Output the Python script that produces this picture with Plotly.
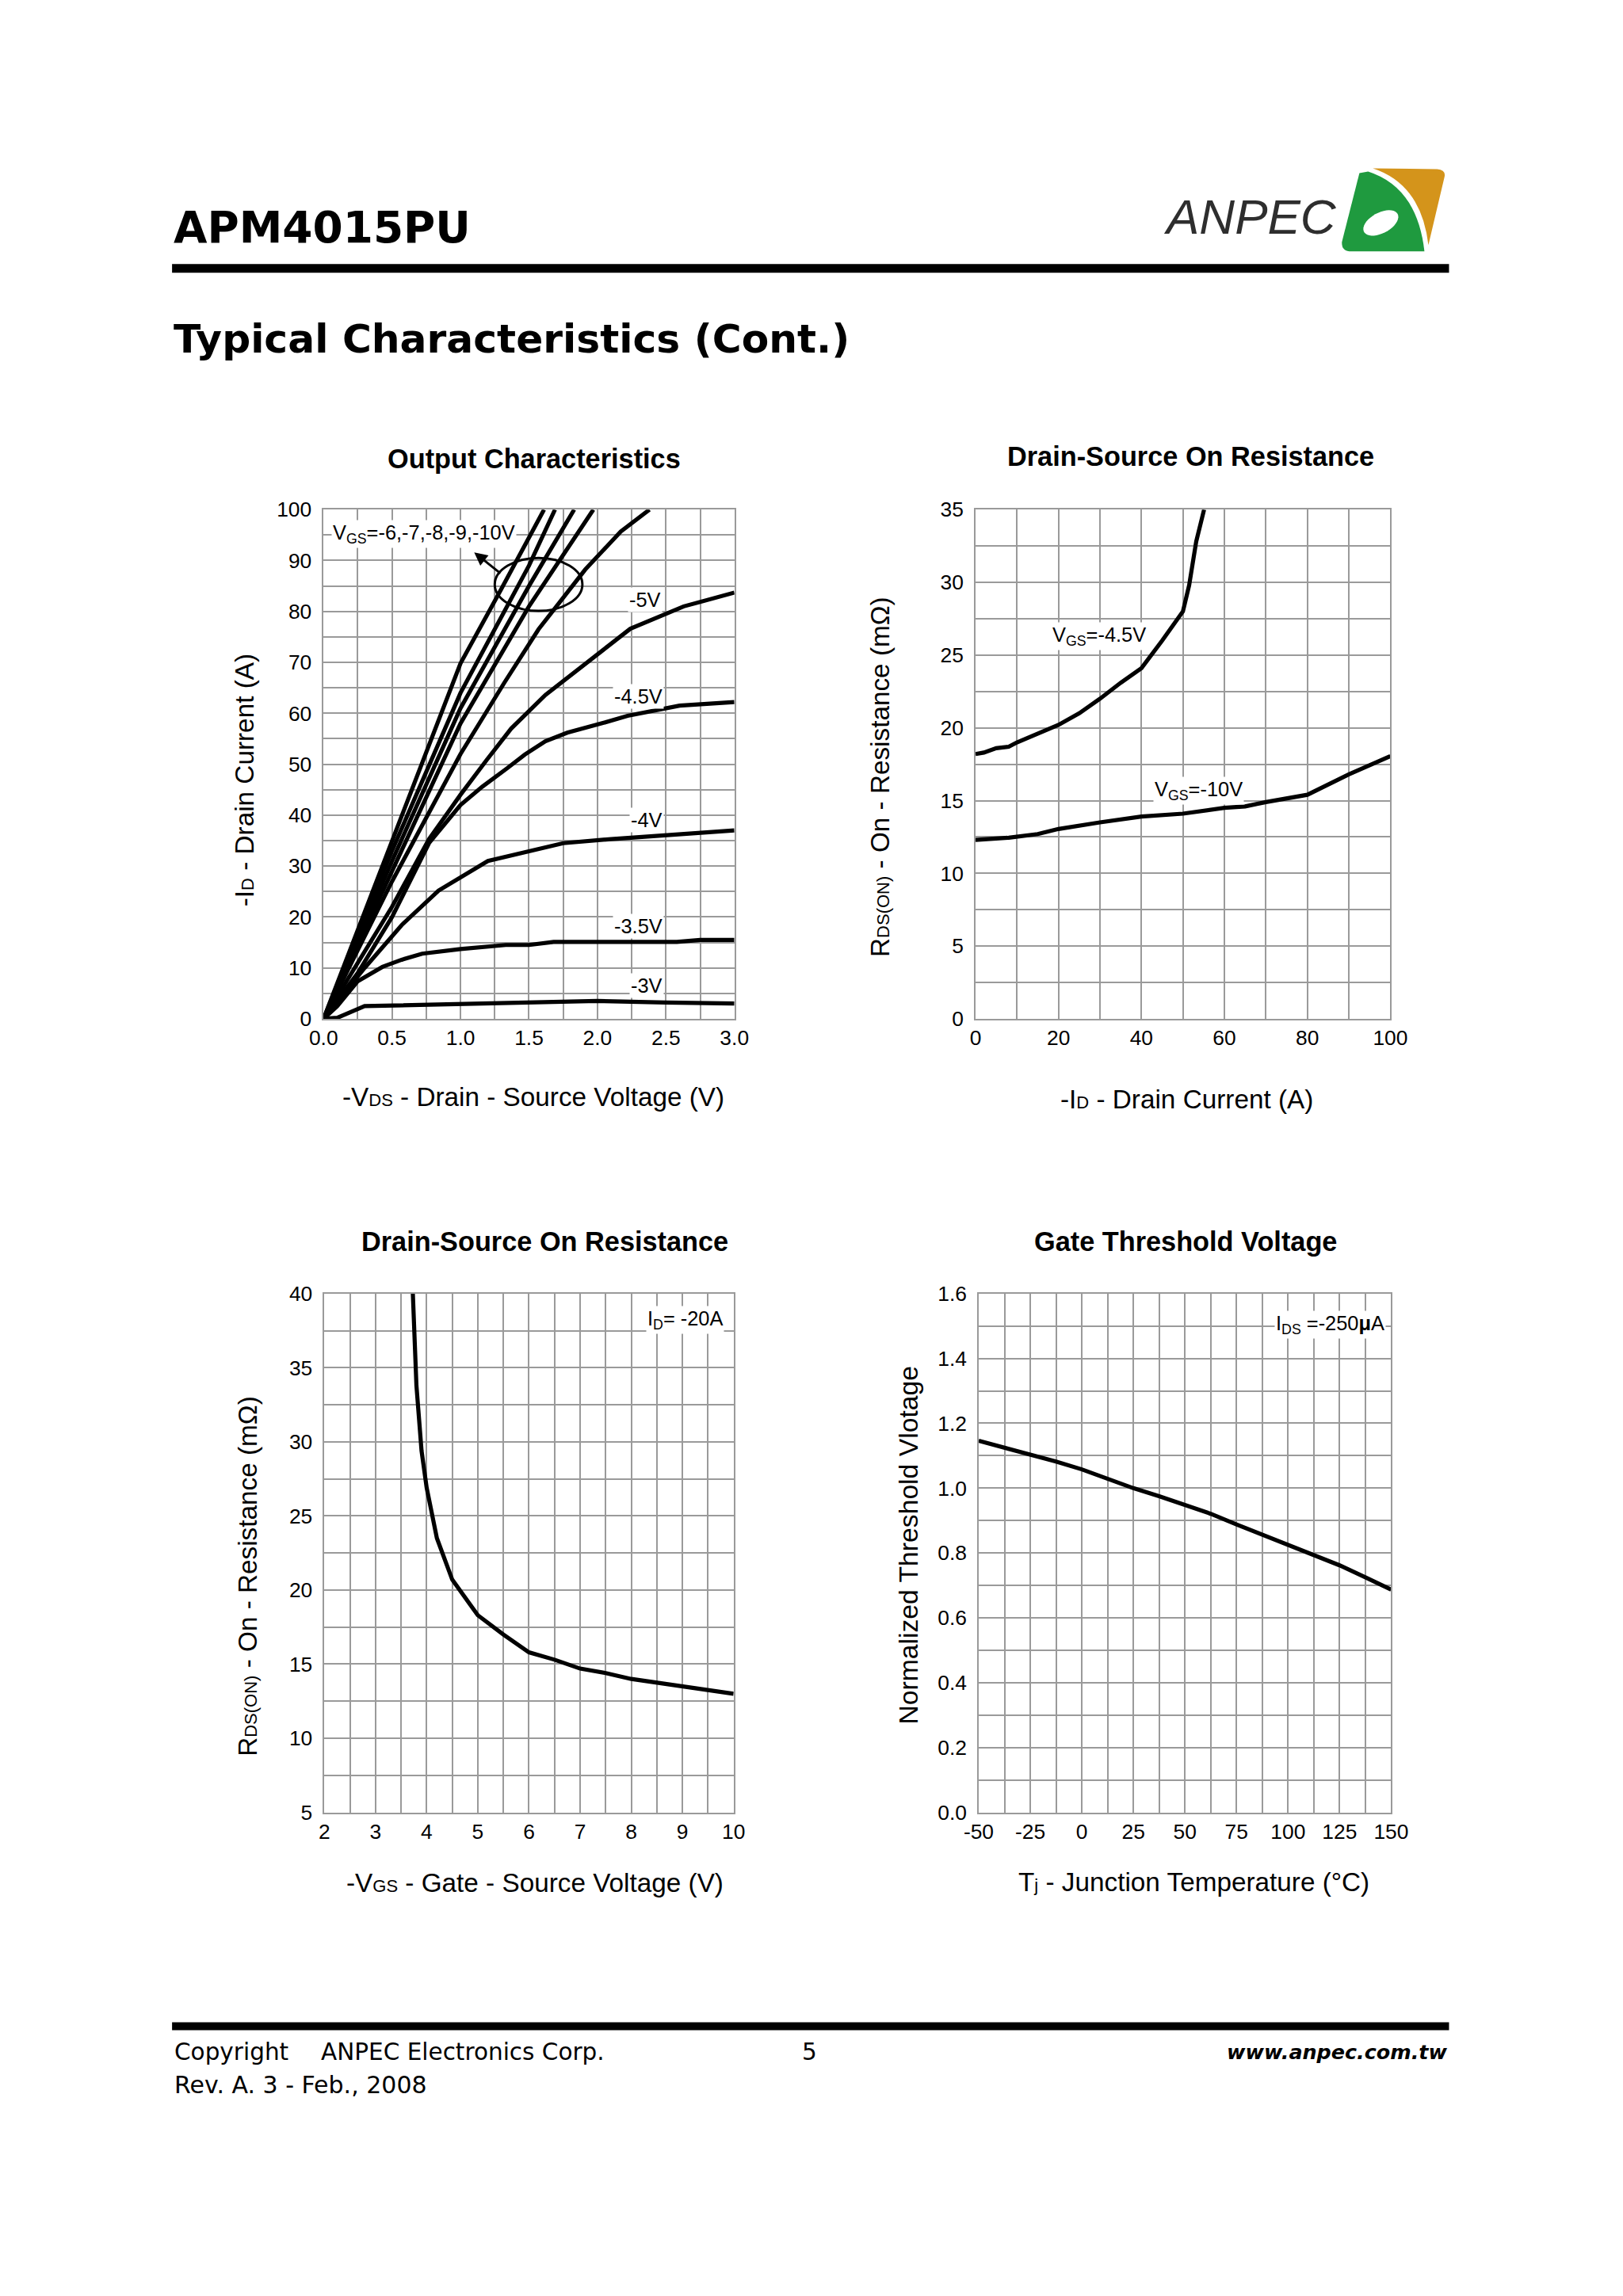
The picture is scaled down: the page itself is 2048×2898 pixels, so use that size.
import plotly.graph_objects as go
import numpy as np

# ---------------- data ----------------
# Output characteristics: -VDS (V) vs -ID (A)
vds_3v0 = [0.0, 0.1, 0.3, 1.0, 1.5, 2.0, 2.5, 3.0]
id_3v0 = [0.0, 0.2, 2.5, 2.9, 3.2, 3.5, 3.2, 3.0]
vds_3v5 = [0.0, 0.1, 0.25, 0.43, 0.57, 0.72, 1.0, 1.2, 1.33, 1.5, 1.68, 2.58, 2.75, 3.0]
id_3v5 = [0.0, 2.5, 7.4, 10.2, 11.6, 12.8, 13.7, 14.1, 14.5, 14.5, 15.1, 15.1, 15.5, 15.5]
vds_4v0 = [0.0, 0.3, 0.57, 0.84, 1.2, 1.5, 1.75, 2.1, 2.5, 3.0]
id_4v0 = [0.0, 10.0, 18.4, 25.2, 31.0, 33.0, 34.5, 35.3, 36.0, 37.0]
vds_4v5 = [0.0, 0.25, 0.5, 0.77, 1.0, 1.16, 1.34, 1.47, 1.62, 1.78, 2.04, 2.22, 2.6, 3.0]
id_4v5 = [0.0, 9.0, 20.0, 34.5, 42.0, 45.6, 49.2, 51.9, 54.5, 56.2, 58.1, 59.5, 61.5, 62.2]
vds_5v0 = [0.0, 0.5, 0.77, 1.0, 1.19, 1.37, 1.62, 1.91, 2.24, 2.63, 3.0]
id_5v0 = [0.0, 22.0, 35.3, 44.0, 50.8, 57.0, 63.6, 69.8, 76.6, 81.0, 83.7]
vds_6v0 = [0.0, 0.5, 1.0, 1.32, 1.57, 1.91, 2.17, 2.38]
id_6v0 = [0.0, 27.0, 52.0, 66.0, 76.5, 88.2, 95.7, 100.0]
vds_7v0 = [0.0, 0.5, 1.0, 1.5, 1.97]
id_7v0 = [0.0, 29.0, 58.0, 81.0, 100.0]
vds_8v0 = [0.0, 0.5, 1.0, 1.5, 1.83]
id_8v0 = [0.0, 31.0, 61.0, 85.0, 100.0]
vds_9v0 = [0.0, 0.5, 1.0, 1.5, 1.69]
id_9v0 = [0.0, 33.0, 64.0, 89.0, 100.0]
vds_10v0 = [0.0, 0.5, 1.0, 1.3, 1.61]
id_10v0 = [0.0, 35.0, 69.8, 84.5, 100.0]

# On resistance vs drain current
id_r45 = [0, 2, 5, 8, 10, 15, 20, 25, 30, 35, 40, 45, 50, 51.5, 53.2, 55.1]
rds_r45 = [18.2, 18.3, 18.6, 18.7, 19.0, 19.6, 20.2, 21.0, 22.0, 23.1, 24.1, 26.0, 28.0, 29.8, 32.8, 35.0]
id_r10 = [0, 8, 15, 20, 30, 40, 50, 60, 65, 70, 80, 85, 90, 100]
rds_r10 = [12.3, 12.45, 12.7, 13.05, 13.5, 13.9, 14.1, 14.5, 14.6, 14.9, 15.4, 16.1, 16.8, 18.05]

# On resistance vs gate-source voltage
vgs_r = [3.73, 3.76, 3.8, 3.9, 4.0, 4.2, 4.5, 5.0, 5.5, 6.0, 6.5, 7.0, 7.5, 8.0, 9.0, 10.0]
rds_vgs = [40.0, 36.5, 33.8, 29.4, 26.9, 23.5, 20.7, 18.3, 17.0, 15.8, 15.3, 14.7, 14.4, 14.0, 13.5, 13.0]

# Normalized threshold voltage vs junction temperature
tj = [-50, -25, -12.5, 0, 12.5, 25, 37.5, 50, 62.5, 75, 87.5, 100, 112.5, 125, 137.5, 150]
vth_norm = [1.146, 1.105, 1.082, 1.058, 1.028, 1.0, 0.975, 0.949, 0.921, 0.888, 0.857, 0.827, 0.796, 0.762, 0.725, 0.687]

# tick values and labels
x1_vals = [0, 0.5, 1, 1.5, 2, 2.5, 3]
x1_ticks = ["0.0", "0.5", "1.0", "1.5", "2.0", "2.5", "3.0"]
y1_vals = [0, 10, 20, 30, 40, 50, 60, 70, 80, 90, 100]
y1_ticks = ["0", "10", "20", "30", "40", "50", "60", "70", "80", "90", "100"]
x2_vals = [0, 20, 40, 60, 80, 100]
x2_ticks = ["0", "20", "40", "60", "80", "100"]
y2_vals = [0, 5, 10, 15, 20, 25, 30, 35]
y2_ticks = ["0", "5", "10", "15", "20", "25", "30", "35"]
x3_vals = [2, 3, 4, 5, 6, 7, 8, 9, 10]
x3_ticks = ["2", "3", "4", "5", "6", "7", "8", "9", "10"]
y3_vals = [5, 10, 15, 20, 25, 30, 35, 40]
y3_ticks = ["5", "10", "15", "20", "25", "30", "35", "40"]
x4_vals = [-50, -25, 0, 25, 50, 75, 100, 125, 150]
x4_ticks = ["-50", "-25", "0", "25", "50", "75", "100", "125", "150"]
y4_vals = [0, 0.2, 0.4, 0.6, 0.8, 1.0, 1.2, 1.4, 1.6]
y4_ticks = ["0.0", "0.2", "0.4", "0.6", "0.8", "1.0", "1.2", "1.4", "1.6"]

# ---------------- layout helpers ----------------
W, H = 2048, 2898          # reference page size
M = 8                       # browser body margin
FW, FH = W - 2 * M, H - 2 * M
SX, SY = 0.979, 0.990       # compensation for the capture scaling
CX, CY = 1010, 1460
KF = 1 / 0.984              # font compensation
FONT = "Liberation Sans, Arial, sans-serif"
VFONT = "DejaVu Sans, Verdana, sans-serif"
GRID = "#9a9a9a"


def fx(p):
    q = CX + (p - CX) / SX
    return (q - M) / FW


def fy(p):
    q = CY + (p - CY) / SY
    return 1 - (q - M) / FH


def fs(v):
    return round(v * KF, 1)


def grid_axis(rng, vals, labels, step_minor, pos0, pos1, standoff=None):
    d = dict(
        domain=[pos0, pos1], range=rng, tickmode="array",
        tickvals=vals, ticktext=labels, showgrid=True, gridcolor=GRID,
        gridwidth=1.5, showline=True, linecolor=GRID, linewidth=1.5,
        mirror=True, ticks="", zeroline=False, fixedrange=True,
        minor=dict(tickmode="linear", tick0=rng[0], dtick=step_minor, showgrid=True,
                   gridcolor=GRID, gridwidth=1.5, ticks=""),
        tickfont=dict(family=FONT, size=fs(26), color="black"),
    )
    if standoff is not None:
        d["ticklabelstandoff"] = standoff
    return d


fig = go.Figure()

LINE = dict(color="black", width=5.2)
for xs, ys in [(vds_3v0, id_3v0), (vds_3v5, id_3v5), (vds_4v0, id_4v0),
               (vds_4v5, id_4v5), (vds_5v0, id_5v0), (vds_6v0, id_6v0),
               (vds_7v0, id_7v0), (vds_8v0, id_8v0), (vds_9v0, id_9v0),
               (vds_10v0, id_10v0)]:
    fig.add_trace(go.Scatter(x=xs, y=ys, mode="lines", line=LINE,
                             xaxis="x", yaxis="y", showlegend=False, hoverinfo="skip"))
for xs, ys in [(id_r45, rds_r45), (id_r10, rds_r10)]:
    fig.add_trace(go.Scatter(x=xs, y=ys, mode="lines", line=LINE,
                             xaxis="x2", yaxis="y2", showlegend=False, hoverinfo="skip"))
fig.add_trace(go.Scatter(x=vgs_r, y=rds_vgs, mode="lines", line=LINE,
                         xaxis="x3", yaxis="y3", showlegend=False, hoverinfo="skip"))
fig.add_trace(go.Scatter(x=tj, y=vth_norm, mode="lines", line=LINE,
                         xaxis="x4", yaxis="y4", showlegend=False, hoverinfo="skip"))

# plot-area pixel boxes (reference page pixels)
P1 = (410, 928, 643, 1286)
P2 = (1232, 1755, 643, 1286)
P3 = (411, 927, 1633, 2288)
P4 = (1236, 1756, 1633, 2288)

SO = 8
xa1 = grid_axis([0, 3], x1_vals, x1_ticks, 0.25, fx(P1[0]), fx(P1[1]))
ya1 = grid_axis([0, 100], y1_vals, y1_ticks, 5, fy(P1[3]), fy(P1[2]), SO)
xa2 = grid_axis([0, 100], x2_vals, x2_ticks, 10, fx(P2[0]), fx(P2[1]))
ya2 = grid_axis([0, 35], y2_vals, y2_ticks, 2.5, fy(P2[3]), fy(P2[2]), SO)
xa3 = grid_axis([2, 10], x3_vals, x3_ticks, 0.5, fx(P3[0]), fx(P3[1]))
ya3 = grid_axis([5, 40], y3_vals, y3_ticks, 2.5, fy(P3[3]), fy(P3[2]), SO)
xa4 = grid_axis([-50, 150], x4_vals, x4_ticks, 12.5, fx(P4[0]), fx(P4[1]))
ya4 = grid_axis([0, 1.6], y4_vals, y4_ticks, 0.1, fy(P4[3]), fy(P4[2]), SO)

xa1["anchor"] = "y"; ya1["anchor"] = "x"
xa2["anchor"] = "y2"; ya2["anchor"] = "x2"
xa3["anchor"] = "y3"; ya3["anchor"] = "x3"
xa4["anchor"] = "y4"; ya4["anchor"] = "x4"

ann = []


def txt(x, y, s, size, family=FONT, xanchor="center", yanchor="middle", angle=0, color="black"):
    ann.append(dict(x=fx(x), y=fy(y), xref="paper", yref="paper", text=s, showarrow=False,
                    xanchor=xanchor, yanchor=yanchor, textangle=angle,
                    font=dict(family=family, size=fs(size), color=color)))


def lab(x, y, s, xr, yr, size=25, xanchor="center"):
    ann.append(dict(x=x, y=y, xref=xr, yref=yr, text=s, showarrow=False,
                    xanchor=xanchor, yanchor="middle", bgcolor="white", borderpad=1,
                    font=dict(family=FONT, size=fs(size), color="black")))


# header / footer
txt(219, 287, "<b>APM4015PU</b>", 54, VFONT, xanchor="left")
txt(219, 427, "<b>Typical Characteristics (Cont.)</b>", 49.5, VFONT, xanchor="left")
txt(1578, 273, "<i>ANPEC</i>", 61, FONT, color="#2e2e2e")
txt(220, 2591, "Copyright", 29, VFONT, xanchor="left")
txt(405, 2591, "ANPEC Electronics Corp.", 29, VFONT, xanchor="left")
txt(1023, 2591, "5", 29, VFONT)
txt(1829, 2591, "<b><i>www.anpec.com.tw</i></b>", 25, VFONT, xanchor="right")
txt(220, 2632, "Rev. A. 3 - Feb., 2008", 29.5, VFONT, xanchor="left")

# chart titles
txt(675, 579, "<b>Output Characteristics</b>", 33.8)
txt(1503, 576, "<b>Drain-Source On Resistance</b>", 33.8)
txt(689, 1567, "<b>Drain-Source On Resistance</b>", 33.8)
txt(1497, 1567, "<b>Gate Threshold Voltage</b>", 33.8)

SUB = "<span style='font-size:22px'>%s</span>"
# axis titles
txt(674, 1385, "-V" + SUB % "DS" + " - Drain - Source Voltage (V)", 32.8)
txt(310, 985, "-I" + SUB % "D" + " - Drain Current (A)", 32.8, angle=-90)
txt(1498, 1388, "-I" + SUB % "D" + " - Drain Current (A)", 32.8)
txt(1111, 980, "R" + SUB % "DS(ON)" + " - On - Resistance (mΩ)", 32.8, angle=-90)
txt(676, 2377, "-V" + SUB % "GS" + " - Gate - Source Voltage (V)", 32.8)
txt(314, 1990, "R" + SUB % "DS(ON)" + " - On - Resistance (mΩ)", 32.8, angle=-90)
txt(1507, 2376, "T" + SUB % "j" + " - Junction Temperature (°C)", 32.8)
txt(1147, 1950, "Normalized Threshold Vlotage", 33.2, angle=-90)

# in-plot labels
lab(0.057, 95.2, "V<sub>GS</sub>=-6,-7,-8,-9,-10V", "x", "y", xanchor="left")
lab(2.35, 82.3, "-5V", "x", "y")
lab(2.30, 63.3, "-4.5V", "x", "y")
lab(2.36, 39.1, "-4V", "x", "y")
lab(2.30, 18.2, "-3.5V", "x", "y")
lab(2.36, 6.6, "-3V", "x", "y")
lab(29.9, 26.3, "V<sub>GS</sub>=-4.5V", "x2", "y2")
lab(53.7, 15.7, "V<sub>GS</sub>=-10V", "x2", "y2")
lab(9.05, 38.2, "I<sub>D</sub>= -20A", "x3", "y3")
lab(120.5, 1.505, "I<sub>DS</sub> =-250<b>μ</b>A", "x4", "y4")

# arrow from ellipse to label
ann.append(dict(x=1.10, y=91.6, xref="x", yref="y", ax=1.30, ay=87.3, axref="x", ayref="y",
                text="", showarrow=True, arrowhead=2, arrowsize=1.1, arrowwidth=3,
                arrowcolor="black"))

shapes = []
# ellipse around VGS=-6..-10 curves
shapes.append(dict(type="circle", xref="x", yref="y", x0=1.25, x1=1.89, y0=80.1, y1=90.5,
                   line=dict(color="black", width=3)))
# header/footer rules
shapes.append(dict(type="rect", xref="paper", yref="paper", x0=fx(219), x1=fx(1829),
                   y0=fy(344), y1=fy(333), fillcolor="black", line=dict(width=0)))
shapes.append(dict(type="rect", xref="paper", yref="paper", x0=fx(219), x1=fx(1829),
                   y0=fy(2563), y1=fy(2553), fillcolor="black", line=dict(width=0)))


def P(x, y):
    return "%.6f,%.6f" % (fx(x), fy(y))


# logo: orange wedge
orange = ("M " + P(1733, 212) + " L " + P(1814, 213) + " Q " + P(1826, 214) + " " + P(1823, 224)
          + " L " + P(1803, 309) + " Q " + P(1794, 232) + " " + P(1733, 212) + " Z")
shapes.append(dict(type="path", xref="paper", yref="paper", path=orange,
                   fillcolor="#d4941b", line=dict(width=0)))
# logo: green shape
green = ("M " + P(1716, 218) + " L " + P(1727, 216) + " Q " + P(1789, 236) + " " + P(1798, 317)
         + " L " + P(1706, 317) + " Q " + P(1693, 317) + " " + P(1694, 305)
         + " L " + P(1716, 218) + " Z")
shapes.append(dict(type="path", xref="paper", yref="paper", path=green,
                   fillcolor="#1f9a3f", line=dict(width=0)))
# logo: white hole
th = np.linspace(0, 2 * np.pi, 40)
rot = np.deg2rad(-28)
ex = 1743 + 24 * np.cos(th) * np.cos(rot) - 13 * np.sin(th) * np.sin(rot)
ey = 281 + 24 * np.cos(th) * np.sin(rot) + 13 * np.sin(th) * np.cos(rot)
hole = "M " + " L ".join(P(a, b) for a, b in zip(ex, ey)) + " Z"
shapes.append(dict(type="path", xref="paper", yref="paper", path=hole,
                   fillcolor="white", line=dict(width=0)))

fig.update_layout(
    width=FW, height=FH, margin=dict(l=0, r=0, t=0, b=0),
    paper_bgcolor="white", plot_bgcolor="white", showlegend=False,
    xaxis=xa1, yaxis=ya1, xaxis2=xa2, yaxis2=ya2,
    xaxis3=xa3, yaxis3=ya3, xaxis4=xa4, yaxis4=ya4,
    annotations=ann, shapes=shapes,
)

fig.write_html("out.html")
